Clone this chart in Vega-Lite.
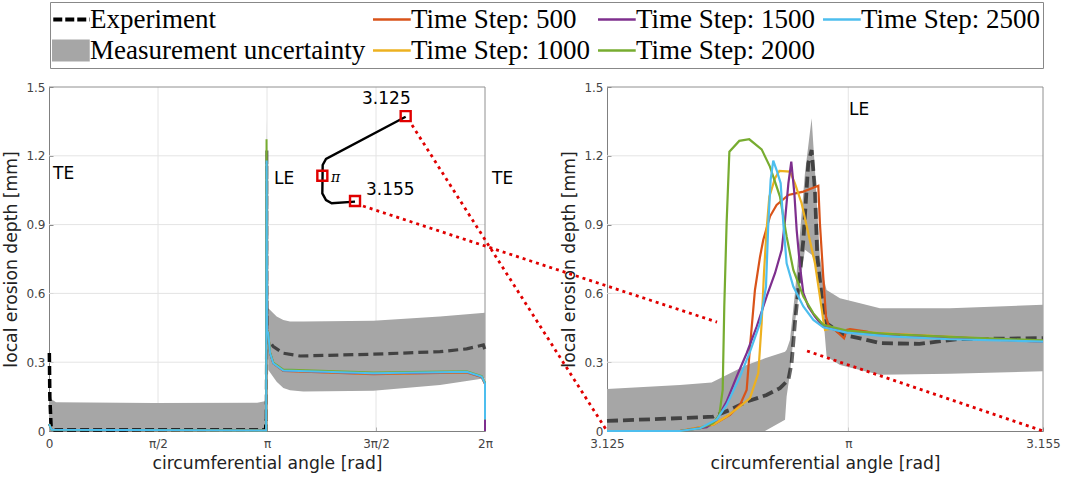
{
"$schema":"https://vega.github.io/schema/vega-lite/v6.json",
"width":1065,"height":478,"padding":0,"autosize":{"type":"none"},
"background":"white",
"config":{"view":{"stroke":null},"axis":{"labelFont":"DejaVu Sans","titleFont":"DejaVu Sans","labelFontSize":12,"titleFontSize":17.2,"titleFontWeight":"normal","labelColor":"#444","titleColor":"#222","domainColor":"#808080","ticks":true,"tickSize":-4,"tickColor":"#808080","grid":false,"labelFlush":false,"labelOverlap":false}},
"datasets":{
"leftGrid":[{"x":1.5708,"x2":1.5708,"y":0,"y2":1.5},{"x":3.1416,"x2":3.1416,"y":0,"y2":1.5},{"x":4.7124,"x2":4.7124,"y":0,"y2":1.5},{"x":0,"x2":6.2832,"y":0.3,"y2":0.3},{"x":0,"x2":6.2832,"y":0.6,"y2":0.6},{"x":0,"x2":6.2832,"y":0.9,"y2":0.9},{"x":0,"x2":6.2832,"y":1.2,"y2":1.2}],
"leftFrame":[{"x":0,"x2":6.2832,"y":1.5,"y2":1.5},{"x":6.2832,"x2":6.2832,"y":0,"y2":1.5}],
"rightGrid":[{"x":3.1416,"x2":3.1416,"y":0,"y2":1.5},{"x":3.125,"x2":3.155,"y":0.3,"y2":0.3},{"x":3.125,"x2":3.155,"y":0.6,"y2":0.6},{"x":3.125,"x2":3.155,"y":0.9,"y2":0.9},{"x":3.125,"x2":3.155,"y":1.2,"y2":1.2}],
"rightFrame":[{"x":3.125,"x2":3.155,"y":1.5,"y2":1.5},{"x":3.155,"x2":3.155,"y":0,"y2":1.5}],
"leftBand":[
{"s":"Measurement uncertainty","x":0,"y":0.17,"y2":0},{"s":"Measurement uncertainty","x":0.03,"y":0.14,"y2":0},{"s":"Measurement uncertainty","x":0.1,"y":0.125,"y2":0},{"s":"Measurement uncertainty","x":1.5,"y":0.122,"y2":0},{"s":"Measurement uncertainty","x":3.0,"y":0.123,"y2":0},{"s":"Measurement uncertainty","x":3.11,"y":0.13,"y2":0},{"s":"Measurement uncertainty","x":3.13,"y":0.18,"y2":0},{"s":"Measurement uncertainty","x":3.1391,"y":1.36,"y2":0.7},{"s":"Measurement uncertainty","x":3.1608,"y":0.535,"y2":0.266},{"s":"Measurement uncertainty","x":3.2809,"y":0.499,"y2":0.215},{"s":"Measurement uncertainty","x":3.377,"y":0.484,"y2":0.187},{"s":"Measurement uncertainty","x":3.473,"y":0.477,"y2":0.178},{"s":"Measurement uncertainty","x":3.6652,"y":0.477,"y2":0.172},{"s":"Measurement uncertainty","x":4.674,"y":0.481,"y2":0.176},{"s":"Measurement uncertainty","x":5.6347,"y":0.499,"y2":0.201},{"s":"Measurement uncertainty","x":6.2832,"y":0.516,"y2":0.23}],
"leftExpStart":[
{"s":"Experiment","x":0.005,"y":0.34},{"s":"Experiment","x":0.012,"y":0.15},{"s":"Experiment","x":0.03,"y":0.02},{"s":"Experiment","x":0.08,"y":0.004},{"s":"Experiment","x":3.12,"y":0.004},{"s":"Experiment","x":3.13,"y":0.05}],
"leftExp":[
{"s":"Experiment","x":3.13,"y":0.05},{"s":"Experiment","x":3.1385,"y":0.5},{"s":"Experiment","x":3.1391,"y":1.225},{"s":"Experiment","x":3.1416,"y":0.45},{"s":"Experiment","x":3.1608,"y":0.397},{"s":"Experiment","x":3.2329,"y":0.368},{"s":"Experiment","x":3.377,"y":0.339},{"s":"Experiment","x":3.6172,"y":0.327},{"s":"Experiment","x":4.674,"y":0.335},{"s":"Experiment","x":5.6347,"y":0.346},{"s":"Experiment","x":6.019,"y":0.358},{"s":"Experiment","x":6.2592,"y":0.375},{"s":"Experiment","x":6.2832,"y":0.354}],
"leftLines":[
{"s":"Time Step: 500","x":0,"y":0.03},{"s":"Time Step: 500","x":0.04,"y":0.005},{"s":"Time Step: 500","x":3.13,"y":0.002},{"s":"Time Step: 500","x":3.1395,"y":1.069},{"s":"Time Step: 500","x":3.1416,"y":0.44},{"s":"Time Step: 500","x":3.1608,"y":0.426},{"s":"Time Step: 500","x":3.185,"y":0.34},{"s":"Time Step: 500","x":3.2329,"y":0.295},{"s":"Time Step: 500","x":3.377,"y":0.262},{"s":"Time Step: 500","x":4.674,"y":0.248},{"s":"Time Step: 500","x":6.019,"y":0.255},{"s":"Time Step: 500","x":6.2352,"y":0.235},{"s":"Time Step: 500","x":6.2832,"y":0.205},{"s":"Time Step: 500","x":6.2832,"y":0.05},
{"s":"Time Step: 1000","x":0,"y":0.03},{"s":"Time Step: 1000","x":0.04,"y":0.005},{"s":"Time Step: 1000","x":3.13,"y":0.002},{"s":"Time Step: 1000","x":3.1369,"y":1.134},{"s":"Time Step: 1000","x":3.1416,"y":0.44},{"s":"Time Step: 1000","x":3.1608,"y":0.426},{"s":"Time Step: 1000","x":3.185,"y":0.34},{"s":"Time Step: 1000","x":3.2329,"y":0.295},{"s":"Time Step: 1000","x":3.377,"y":0.264},{"s":"Time Step: 1000","x":4.674,"y":0.25},{"s":"Time Step: 1000","x":6.019,"y":0.256},{"s":"Time Step: 1000","x":6.2352,"y":0.236},{"s":"Time Step: 1000","x":6.2832,"y":0.207},{"s":"Time Step: 1000","x":6.2832,"y":0.05},
{"s":"Time Step: 1500","x":0,"y":0.03},{"s":"Time Step: 1500","x":0.04,"y":0.005},{"s":"Time Step: 1500","x":3.13,"y":0.002},{"s":"Time Step: 1500","x":3.1377,"y":1.175},{"s":"Time Step: 1500","x":3.1416,"y":0.44},{"s":"Time Step: 1500","x":3.1608,"y":0.426},{"s":"Time Step: 1500","x":3.185,"y":0.34},{"s":"Time Step: 1500","x":3.2329,"y":0.295},{"s":"Time Step: 1500","x":3.377,"y":0.264},{"s":"Time Step: 1500","x":4.674,"y":0.251},{"s":"Time Step: 1500","x":6.019,"y":0.257},{"s":"Time Step: 1500","x":6.2352,"y":0.236},{"s":"Time Step: 1500","x":6.2832,"y":0.207},{"s":"Time Step: 1500","x":6.2832,"y":0},
{"s":"Time Step: 2000","x":0,"y":0.03},{"s":"Time Step: 2000","x":0.04,"y":0.005},{"s":"Time Step: 2000","x":3.13,"y":0.002},{"s":"Time Step: 2000","x":3.1348,"y":1.272},{"s":"Time Step: 2000","x":3.1416,"y":0.44},{"s":"Time Step: 2000","x":3.1608,"y":0.428},{"s":"Time Step: 2000","x":3.185,"y":0.344},{"s":"Time Step: 2000","x":3.2329,"y":0.298},{"s":"Time Step: 2000","x":3.377,"y":0.268},{"s":"Time Step: 2000","x":4.674,"y":0.255},{"s":"Time Step: 2000","x":6.019,"y":0.261},{"s":"Time Step: 2000","x":6.2352,"y":0.24},{"s":"Time Step: 2000","x":6.2832,"y":0.21},{"s":"Time Step: 2000","x":6.2832,"y":0.05},
{"s":"Time Step: 2500","x":0,"y":0.03},{"s":"Time Step: 2500","x":0.04,"y":0.005},{"s":"Time Step: 2500","x":3.13,"y":0.002},{"s":"Time Step: 2500","x":3.1364,"y":1.179},{"s":"Time Step: 2500","x":3.1416,"y":0.44},{"s":"Time Step: 2500","x":3.1608,"y":0.426},{"s":"Time Step: 2500","x":3.185,"y":0.34},{"s":"Time Step: 2500","x":3.2329,"y":0.295},{"s":"Time Step: 2500","x":3.377,"y":0.264},{"s":"Time Step: 2500","x":4.674,"y":0.252},{"s":"Time Step: 2500","x":6.019,"y":0.258},{"s":"Time Step: 2500","x":6.2352,"y":0.237},{"s":"Time Step: 2500","x":6.2832,"y":0.208},{"s":"Time Step: 2500","x":6.2832,"y":0.05}],
"rightBand":[
{"s":"Measurement uncertainty","x":3.125,"y":0.183,"y2":0},{"s":"Measurement uncertainty","x":3.13002,"y":0.201,"y2":0},{"s":"Measurement uncertainty","x":3.1322,"y":0.211,"y2":0},{"s":"Measurement uncertainty","x":3.13461,"y":0.288,"y2":0},{"s":"Measurement uncertainty","x":3.13587,"y":0.317,"y2":0},{"s":"Measurement uncertainty","x":3.13725,"y":0.346,"y2":0.049},{"s":"Measurement uncertainty","x":3.13736,"y":0.354,"y2":0.15},{"s":"Measurement uncertainty","x":3.13759,"y":0.397,"y2":0.252},{"s":"Measurement uncertainty","x":3.13793,"y":0.601,"y2":0.47},{"s":"Measurement uncertainty","x":3.13828,"y":0.862,"y2":0.644},{"s":"Measurement uncertainty","x":3.13862,"y":1.124,"y2":0.79},{"s":"Measurement uncertainty","x":3.13908,"y":1.364,"y2":0.768},{"s":"Measurement uncertainty","x":3.13931,"y":1.138,"y2":0.739},{"s":"Measurement uncertainty","x":3.13965,"y":0.76,"y2":0.615},{"s":"Measurement uncertainty","x":3.13988,"y":0.673,"y2":0.499},{"s":"Measurement uncertainty","x":3.14011,"y":0.615,"y2":0.325},{"s":"Measurement uncertainty","x":3.14103,"y":0.579,"y2":0.288},{"s":"Measurement uncertainty","x":3.14241,"y":0.557,"y2":0.266},{"s":"Measurement uncertainty","x":3.14378,"y":0.535,"y2":0.245},{"s":"Measurement uncertainty","x":3.1486,"y":0.535,"y2":0.25},{"s":"Measurement uncertainty","x":3.155,"y":0.55,"y2":0.26}],
"rightExp":[
{"s":"Experiment","x":3.125,"y":0.044},{"s":"Experiment","x":3.13002,"y":0.056},{"s":"Experiment","x":3.13231,"y":0.063},{"s":"Experiment","x":3.13346,"y":0.092},{"s":"Experiment","x":3.13461,"y":0.128},{"s":"Experiment","x":3.13598,"y":0.157},{"s":"Experiment","x":3.1369,"y":0.187},{"s":"Experiment","x":3.13748,"y":0.223},{"s":"Experiment","x":3.1377,"y":0.296},{"s":"Experiment","x":3.13793,"y":0.47},{"s":"Experiment","x":3.13816,"y":0.615},{"s":"Experiment","x":3.13851,"y":0.833},{"s":"Experiment","x":3.13885,"y":1.167},{"s":"Experiment","x":3.13908,"y":1.225},{"s":"Experiment","x":3.13931,"y":1.051},{"s":"Experiment","x":3.13947,"y":0.76},{"s":"Experiment","x":3.13977,"y":0.586},{"s":"Experiment","x":3.14011,"y":0.47},{"s":"Experiment","x":3.14126,"y":0.419},{"s":"Experiment","x":3.14241,"y":0.404},{"s":"Experiment","x":3.14378,"y":0.383},{"s":"Experiment","x":3.1465,"y":0.38},{"s":"Experiment","x":3.149,"y":0.4},{"s":"Experiment","x":3.155,"y":0.405}],
"rightLines":[
{"s":"Time Step: 500","x":3.125,"y":0},{"s":"Time Step: 500","x":3.13002,"y":0},{"s":"Time Step: 500","x":3.13231,"y":0.027},{"s":"Time Step: 500","x":3.13346,"y":0.07},{"s":"Time Step: 500","x":3.13415,"y":0.114},{"s":"Time Step: 500","x":3.13461,"y":0.179},{"s":"Time Step: 500","x":3.13484,"y":0.368},{"s":"Time Step: 500","x":3.13518,"y":0.615},{"s":"Time Step: 500","x":3.13553,"y":0.76},{"s":"Time Step: 500","x":3.13575,"y":0.833},{"s":"Time Step: 500","x":3.13621,"y":0.935},{"s":"Time Step: 500","x":3.13667,"y":0.986},{"s":"Time Step: 500","x":3.13748,"y":1.029},{"s":"Time Step: 500","x":3.13851,"y":1.044},{"s":"Time Step: 500","x":3.13954,"y":1.069},{"s":"Time Step: 500","x":3.13965,"y":0.906},{"s":"Time Step: 500","x":3.13988,"y":0.673},{"s":"Time Step: 500","x":3.14007,"y":0.499},{"s":"Time Step: 500","x":3.14023,"y":0.463},{"s":"Time Step: 500","x":3.1408,"y":0.434},{"s":"Time Step: 500","x":3.14131,"y":0.404},{"s":"Time Step: 500","x":3.14149,"y":0.441},{"s":"Time Step: 500","x":3.14172,"y":0.444},{"s":"Time Step: 500","x":3.14287,"y":0.434},{"s":"Time Step: 500","x":3.14378,"y":0.419},{"s":"Time Step: 500","x":3.155,"y":0.39},
{"s":"Time Step: 1000","x":3.125,"y":0},{"s":"Time Step: 1000","x":3.13002,"y":0},{"s":"Time Step: 1000","x":3.13231,"y":0.027},{"s":"Time Step: 1000","x":3.13323,"y":0.063},{"s":"Time Step: 1000","x":3.13415,"y":0.107},{"s":"Time Step: 1000","x":3.13484,"y":0.143},{"s":"Time Step: 1000","x":3.13541,"y":0.252},{"s":"Time Step: 1000","x":3.13564,"y":0.47},{"s":"Time Step: 1000","x":3.1358,"y":0.688},{"s":"Time Step: 1000","x":3.13598,"y":0.877},{"s":"Time Step: 1000","x":3.13617,"y":1.022},{"s":"Time Step: 1000","x":3.13656,"y":1.102},{"s":"Time Step: 1000","x":3.13686,"y":1.134},{"s":"Time Step: 1000","x":3.13759,"y":1.131},{"s":"Time Step: 1000","x":3.13793,"y":1.08},{"s":"Time Step: 1000","x":3.13839,"y":0.993},{"s":"Time Step: 1000","x":3.13885,"y":0.862},{"s":"Time Step: 1000","x":3.13931,"y":0.731},{"s":"Time Step: 1000","x":3.13965,"y":0.586},{"s":"Time Step: 1000","x":3.13988,"y":0.484},{"s":"Time Step: 1000","x":3.14,"y":0.441},{"s":"Time Step: 1000","x":3.14057,"y":0.448},{"s":"Time Step: 1000","x":3.14149,"y":0.434},{"s":"Time Step: 1000","x":3.155,"y":0.39},
{"s":"Time Step: 1500","x":3.125,"y":0},{"s":"Time Step: 1500","x":3.13002,"y":0},{"s":"Time Step: 1500","x":3.13186,"y":0.017},{"s":"Time Step: 1500","x":3.13254,"y":0.049},{"s":"Time Step: 1500","x":3.13323,"y":0.128},{"s":"Time Step: 1500","x":3.13392,"y":0.237},{"s":"Time Step: 1500","x":3.13461,"y":0.339},{"s":"Time Step: 1500","x":3.1353,"y":0.455},{"s":"Time Step: 1500","x":3.13598,"y":0.586},{"s":"Time Step: 1500","x":3.13656,"y":0.688},{"s":"Time Step: 1500","x":3.13702,"y":0.79},{"s":"Time Step: 1500","x":3.13725,"y":0.92},{"s":"Time Step: 1500","x":3.13748,"y":1.08},{"s":"Time Step: 1500","x":3.13768,"y":1.175},{"s":"Time Step: 1500","x":3.13789,"y":1.037},{"s":"Time Step: 1500","x":3.13805,"y":0.877},{"s":"Time Step: 1500","x":3.13828,"y":0.717},{"s":"Time Step: 1500","x":3.13851,"y":0.601},{"s":"Time Step: 1500","x":3.13885,"y":0.543},{"s":"Time Step: 1500","x":3.13931,"y":0.499},{"s":"Time Step: 1500","x":3.13988,"y":0.455},{"s":"Time Step: 1500","x":3.14149,"y":0.43},{"s":"Time Step: 1500","x":3.155,"y":0.39},
{"s":"Time Step: 2000","x":3.125,"y":0},{"s":"Time Step: 2000","x":3.13002,"y":0},{"s":"Time Step: 2000","x":3.1314,"y":0.012},{"s":"Time Step: 2000","x":3.13231,"y":0.034},{"s":"Time Step: 2000","x":3.13273,"y":0.07},{"s":"Time Step: 2000","x":3.13296,"y":0.179},{"s":"Time Step: 2000","x":3.13307,"y":0.543},{"s":"Time Step: 2000","x":3.13323,"y":0.906},{"s":"Time Step: 2000","x":3.13342,"y":1.218},{"s":"Time Step: 2000","x":3.1341,"y":1.265},{"s":"Time Step: 2000","x":3.13479,"y":1.272},{"s":"Time Step: 2000","x":3.13564,"y":1.228},{"s":"Time Step: 2000","x":3.13621,"y":1.153},{"s":"Time Step: 2000","x":3.1369,"y":1.022},{"s":"Time Step: 2000","x":3.13736,"y":0.848},{"s":"Time Step: 2000","x":3.13782,"y":0.702},{"s":"Time Step: 2000","x":3.13851,"y":0.586},{"s":"Time Step: 2000","x":3.1392,"y":0.513},{"s":"Time Step: 2000","x":3.13988,"y":0.463},{"s":"Time Step: 2000","x":3.14149,"y":0.438},{"s":"Time Step: 2000","x":3.14378,"y":0.426},{"s":"Time Step: 2000","x":3.14516,"y":0.42},{"s":"Time Step: 2000","x":3.1486,"y":0.41},{"s":"Time Step: 2000","x":3.155,"y":0.395},
{"s":"Time Step: 2500","x":3.125,"y":0},{"s":"Time Step: 2500","x":3.13002,"y":0},{"s":"Time Step: 2500","x":3.1314,"y":0.012},{"s":"Time Step: 2500","x":3.13254,"y":0.049},{"s":"Time Step: 2500","x":3.13323,"y":0.114},{"s":"Time Step: 2500","x":3.13415,"y":0.237},{"s":"Time Step: 2500","x":3.13484,"y":0.346},{"s":"Time Step: 2500","x":3.13553,"y":0.47},{"s":"Time Step: 2500","x":3.13594,"y":0.63},{"s":"Time Step: 2500","x":3.1361,"y":0.906},{"s":"Time Step: 2500","x":3.13626,"y":1.095},{"s":"Time Step: 2500","x":3.13644,"y":1.179},{"s":"Time Step: 2500","x":3.13667,"y":1.138},{"s":"Time Step: 2500","x":3.13695,"y":1.08},{"s":"Time Step: 2500","x":3.13713,"y":0.906},{"s":"Time Step: 2500","x":3.13736,"y":0.731},{"s":"Time Step: 2500","x":3.13782,"y":0.63},{"s":"Time Step: 2500","x":3.13851,"y":0.543},{"s":"Time Step: 2500","x":3.1392,"y":0.484},{"s":"Time Step: 2500","x":3.13988,"y":0.452},{"s":"Time Step: 2500","x":3.14149,"y":0.429},{"s":"Time Step: 2500","x":3.14378,"y":0.416},{"s":"Time Step: 2500","x":3.14516,"y":0.41},{"s":"Time Step: 2500","x":3.1486,"y":0.4},{"s":"Time Step: 2500","x":3.155,"y":0.39}],
"inset":[{"i":1,"x":5.14,"y":1.37},{"i":2,"x":3.992,"y":1.186},{"i":3,"x":3.944,"y":1.16},{"i":4,"x":3.939,"y":1.036},{"i":5,"x":3.992,"y":1.007},{"i":6,"x":4.074,"y":0.993},{"i":7,"x":4.41,"y":1.0}],
"squares":[{"x":5.14,"y":1.373},{"x":3.939,"y":1.113},{"x":4.41,"y":1.003}],
"redLines":[{"k":"a","x":5.231,"y":1.334},{"k":"a","x":8.041,"y":0},{"k":"b","x":4.525,"y":0.981},{"k":"b","x":9.627,"y":0.475},{"k":"c","x":10.924,"y":0.349},{"k":"c","x":14.325,"y":0}],
"labels":[{"t":"TE","x":0.058,"y":1.121},{"t":"LE","x":3.242,"y":1.099},{"t":"TE","x":6.384,"y":1.099},{"t":"3.125","x":4.511,"y":1.448},{"t":"3.155","x":4.568,"y":1.051},{"t":"LE","x":11.53,"y":1.4}],
"piLabel":[{"t":"π","x":4.064,"y":1.103}]
},
"encoding":{"color":{"field":"s","type":"nominal","scale":{"domain":["Experiment","Measurement uncertainty","Time Step: 500","Time Step: 1000","Time Step: 1500","Time Step: 2000","Time Step: 2500"],"range":["#000000","#a6a6a6","#D95319","#EDB120","#7E2F8E","#77AC30","#4DBEEE"]},
"legend":{"orient":"none","legendX":50,"legendY":2,"direction":"vertical","columns":4,"title":null,"symbolType":"stroke","symbolSize":2350,"clipHeight":31,"labelFont":"Liberation Serif","labelFontSize":27,"labelColor":"#000","labelOffset":11,"strokeColor":"#888","padding":2,"columnPadding":7,"rowPadding":0,"fillColor":"white","labelLimit":400,
"encode":{"symbols":{"update":{"stroke":{"scale":"color","field":"value"},"fill":{"value":"transparent"},"opacity":{"value":1},"strokeWidth":{"signal":"datum.value=='Measurement uncertainty'?22:datum.value=='Experiment'?4:2.5"},"strokeDash":{"signal":"datum.value=='Experiment'?[9,3]:[1,0]"}}}}}}},
"layer":[
{"encoding":{
"x":{"field":"x","type":"quantitative","scale":{"domain":[0,6.2832],"range":[49,485],"nice":false,"zero":false},"axis":{"orient":"bottom","offset":-47,"title":"circumferential angle [rad]","titlePadding":5,"labelPadding":11,"values":[0,1.5708,3.1416,4.7124,6.2832],"labelExpr":"datum.value<0.1?'0':datum.value<2?'π/2':datum.value<4?'π':datum.value<5?'3π/2':'2π'"}},
"y":{"field":"y","type":"quantitative","scale":{"domain":[0,1.5],"range":[431,87],"nice":false,"zero":false},"axis":{"orient":"left","offset":-49,"title":"local erosion depth [mm]","titlePadding":5,"labelPadding":8,"values":[0,0.3,0.6,0.9,1.2,1.5],"labelExpr":"datum.value==0?'0':format(datum.value,'.1f')"}}},
"layer":[
{"data":{"name":"leftGrid"},"mark":{"type":"rule","strokeWidth":1},"encoding":{"x2":{"field":"x2"},"y2":{"field":"y2"},"color":{"value":"#e4e4e4"}}},
{"data":{"name":"leftFrame"},"mark":{"type":"rule","strokeWidth":1},"encoding":{"x2":{"field":"x2"},"y2":{"field":"y2"},"color":{"value":"#909090"}}},
{"data":{"name":"leftBand"},"mark":{"type":"area"},"encoding":{"y2":{"field":"y2"}}},
{"data":{"name":"leftExpStart"},"mark":{"type":"line","strokeWidth":3.5,"strokeDash":[9,4]}},
{"data":{"name":"leftExp"},"mark":{"type":"line","strokeWidth":3.2,"strokeDash":[10,5],"opacity":0.6}},
{"data":{"name":"leftLines"},"mark":{"type":"line","strokeWidth":2}}
]},
{"encoding":{
"x":{"field":"x","type":"quantitative","scale":{"domain":[3.125,3.155],"range":[607,1043],"nice":false,"zero":false},"axis":{"orient":"bottom","offset":-47,"title":"circumferential angle [rad]","titlePadding":5,"labelPadding":11,"values":[3.125,3.1416,3.155],"labelExpr":"abs(datum.value-3.1416)<0.001?'π':format(datum.value,'.3f')"}},
"y":{"field":"y","type":"quantitative","scale":{"domain":[0,1.5],"range":[431,87],"nice":false,"zero":false},"axis":{"orient":"left","offset":-607,"title":"local erosion depth [mm]","titlePadding":5,"labelPadding":8,"values":[0,0.3,0.6,0.9,1.2,1.5],"labelExpr":"datum.value==0?'0':format(datum.value,'.1f')"}}},
"layer":[
{"data":{"name":"rightGrid"},"mark":{"type":"rule","strokeWidth":1},"encoding":{"x2":{"field":"x2"},"y2":{"field":"y2"},"color":{"value":"#e4e4e4"}}},
{"data":{"name":"rightFrame"},"mark":{"type":"rule","strokeWidth":1},"encoding":{"x2":{"field":"x2"},"y2":{"field":"y2"},"color":{"value":"#909090"}}},
{"data":{"name":"rightBand"},"mark":{"type":"area"},"encoding":{"y2":{"field":"y2"}}},
{"data":{"name":"rightExp"},"mark":{"type":"line","strokeWidth":3.8,"strokeDash":[11,5],"opacity":0.6}},
{"data":{"name":"rightLines"},"mark":{"type":"line","strokeWidth":2.2}}
]},
{"encoding":{
"x":{"field":"x","type":"quantitative","scale":{"domain":[0,6.2832],"range":[49,485],"nice":false,"zero":false},"axis":null},
"y":{"field":"y","type":"quantitative","scale":{"domain":[0,1.5],"range":[431,87],"nice":false,"zero":false},"axis":null}},
"layer":[
{"data":{"name":"inset"},"mark":{"type":"line","strokeWidth":2.4},"encoding":{"order":{"field":"i"},"color":{"value":"black"}}},
{"data":{"name":"squares"},"mark":{"type":"point","shape":"square","size":100,"strokeWidth":2.4,"filled":false,"opacity":1},"encoding":{"color":{"value":"#e00000"}}},
{"data":{"name":"redLines"},"mark":{"type":"line","strokeWidth":2.8,"strokeDash":[3,4]},"encoding":{"detail":{"field":"k"},"color":{"value":"#e00000"}}},
{"data":{"name":"labels"},"mark":{"type":"text","font":"DejaVu Sans","fontSize":17,"align":"left","baseline":"middle"},"encoding":{"text":{"field":"t"},"color":{"value":"black"}}},
{"data":{"name":"piLabel"},"mark":{"type":"text","font":"DejaVu Serif","fontStyle":"italic","fontSize":14,"align":"left","baseline":"middle"},"encoding":{"text":{"field":"t"},"color":{"value":"black"}}}
]}
],
"resolve":{"scale":{"x":"independent","y":"independent"}}
}
